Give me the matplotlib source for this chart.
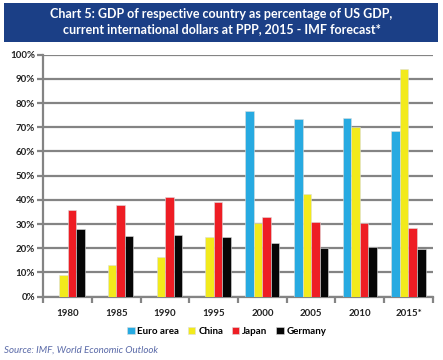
import numpy as np
import matplotlib.pyplot as plt
from matplotlib.patches import Rectangle

years = ["1980", "1985", "1990", "1995", "2000", "2005", "2010", "2015*"]
euro = [np.nan, np.nan, np.nan, np.nan, 76.9, 73.3, 73.7, 68.6]
china = [9.0, 13.0, 16.3, 24.8, 30.6, 42.5, 70.0, 94.0]
japan = [36.0, 37.9, 41.0, 39.3, 33.0, 31.0, 30.3, 28.4]
germany = [27.8, 25.0, 25.5, 24.5, 22.0, 20.0, 20.7, 19.7]

series = [("Euro area", euro, "#27aae1"),
          ("China", china, "#f2ea1c"),
          ("Japan", japan, "#ee1d24"),
          ("Germany", germany, "#060606")]

plt.rcParams['font.family'] = ['Lato', 'DejaVu Sans']

fig = plt.figure(figsize=(4.43, 3.6), dpi=100)
ax = fig.add_axes([0.098, 0.176, 0.879, 0.672])

# title banner
fig.patches.append(Rectangle((0.009, 0.883), 0.98, 0.11, transform=fig.transFigure,
                             facecolor="#1b3f86", edgecolor="none"))
fig.text(0.5, 0.94, "Chart 5: GDP of respective country as percentage of US GDP,\n"
         "current international dollars at PPP, 2015 - IMF forecast*",
         ha="center", va="center", color="white", fontsize=9.0, fontweight="bold",
         linespacing=1.3)

x = np.arange(len(years))
w = 0.175
for i, (name, vals, col) in enumerate(series):
    ax.bar(x + (i - 1.5) * w, vals, width=w, color=col, label=name,
           edgecolor="#dddddd", linewidth=0.4, zorder=3)

ax.set_xlim(-0.5, len(years) - 0.5)
ax.set_ylim(0, 100)
ax.set_yticks(range(0, 101, 10))
ax.set_yticklabels([f"{v}%" for v in range(0, 101, 10)], fontsize=7, fontweight="bold",
                   color="#222222")
ax.yaxis.grid(True, color="#848484", linewidth=1.6, zorder=0)
ax.set_axisbelow(True)

ax.set_xticks(np.arange(-0.5, len(years)), minor=False)
ax.set_xticklabels([])
ax.set_xticks(x, minor=True)
ax.set_xticklabels(years, minor=True, fontsize=7, fontweight="bold", color="#222222")
ax.tick_params(axis="x", which="minor", length=0, pad=9)
ax.tick_params(axis="x", which="major", length=4, width=1.6, color="#848484")
ax.tick_params(axis="y", length=4, width=1.6, color="#848484", pad=2)

for s in ["top", "right"]:
    ax.spines[s].set_visible(False)
for s in ["left", "bottom"]:
    ax.spines[s].set_color("#848484")
    ax.spines[s].set_linewidth(1.6)

fig.legend(loc="center", bbox_to_anchor=(0.512, 0.079), ncol=4, frameon=False,
           handlelength=0.75, handleheight=0.75, handletextpad=0.3,
           columnspacing=0.9, prop={"weight": "bold", "size": 7})

fig.text(0.01, 0.026, "Source: IMF, World Economic Outlook", fontsize=7, style="italic",
         color="#5a6aa8", ha="left", va="center")

fig.savefig("out.png", dpi=100)
